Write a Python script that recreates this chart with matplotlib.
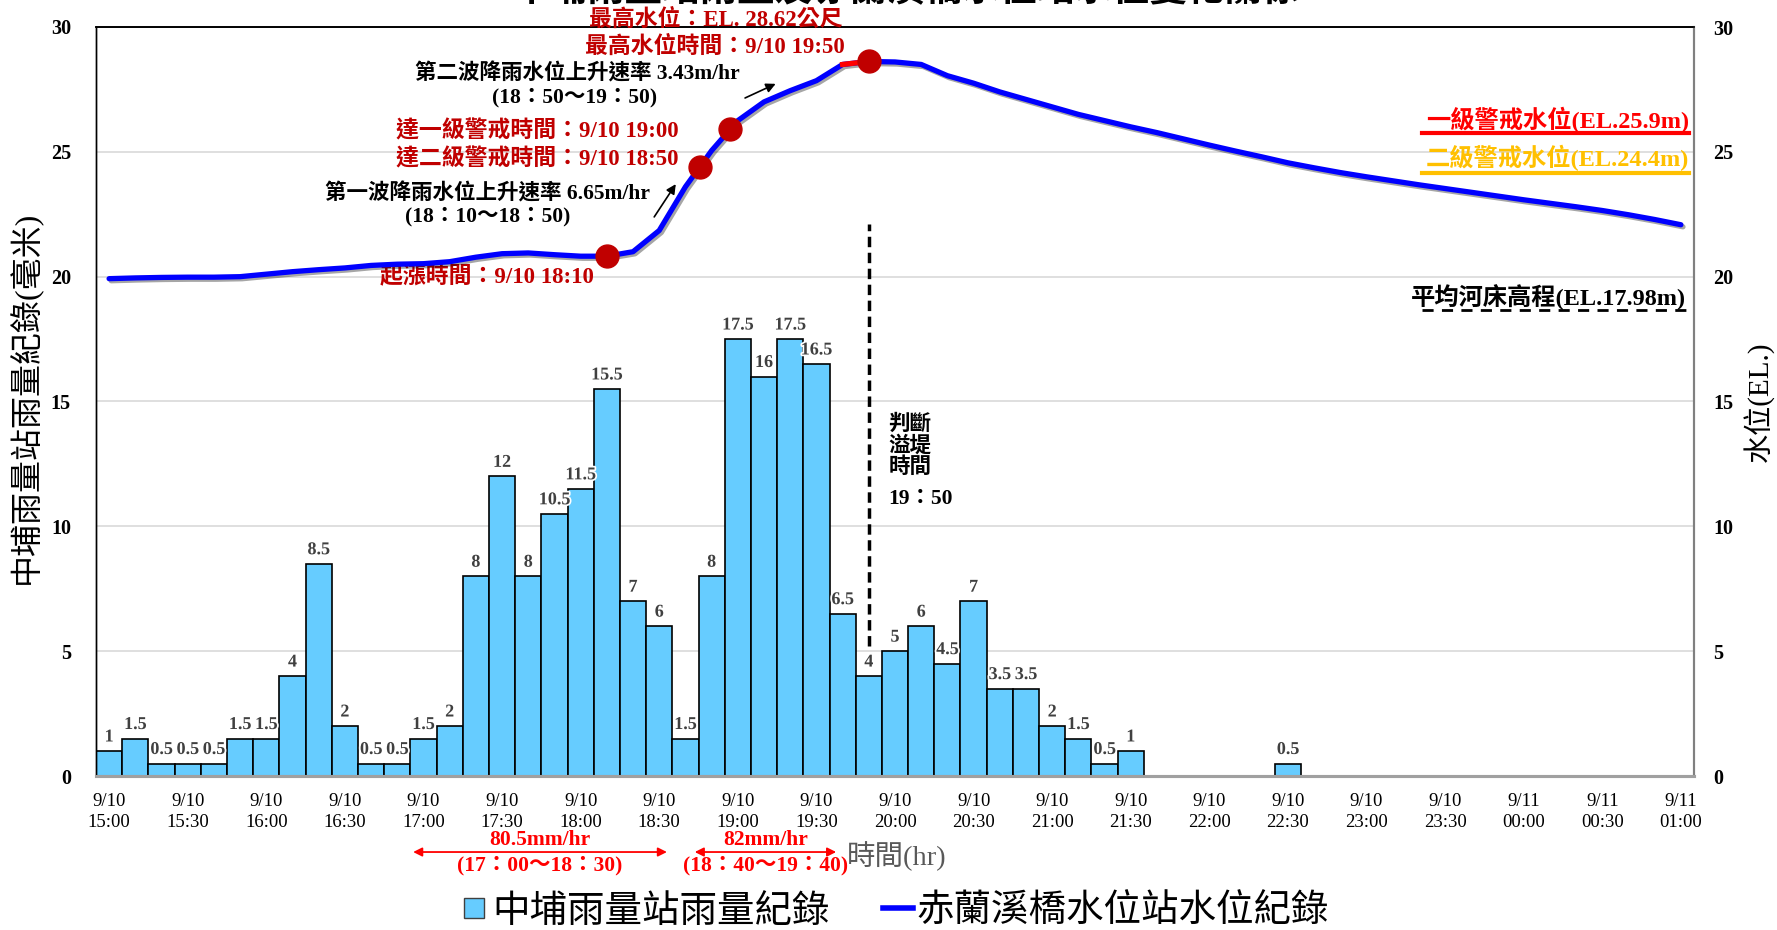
import matplotlib
matplotlib.use("Agg")
import matplotlib.pyplot as plt
import matplotlib.patheffects as pe
from matplotlib.lines import Line2D
import numpy as np
import pandas as pd

plt.rcParams['font.family'] = ['Liberation Serif', 'Noto Sans CJK TC', 'DejaVu Sans']

# 10 minute steps, 9/10 15:00 -> 9/11 01:00
times = pd.date_range('2019-09-10 15:00', '2019-09-11 01:00', freq='10min')

# 中埔雨量站 rainfall (mm / 10 min)
rain = [1, 1.5, 0.5, 0.5, 0.5, 1.5, 1.5, 4, 8.5, 2,
        0.5, 0.5, 1.5, 2, 8, 12, 8, 10.5, 11.5, 15.5,
        7, 6, 1.5, 8, 17.5, 16, 17.5, 16.5, 6.5, 4,
        5, 6, 4.5, 7, 3.5, 3.5, 2, 1.5, 0.5, 1,
        0, 0, 0, 0, 0, 0.5, 0, 0, 0, 0,
        0, 0, 0, 0, 0, 0, 0, 0, 0, 0, 0]

# 赤蘭溪橋 water level (EL. m)
water = [19.92, 19.95, 19.97, 19.98, 19.98, 20.0, 20.1, 20.2, 20.28, 20.35,
         20.45, 20.5, 20.52, 20.6, 20.78, 20.92, 20.95, 20.88, 20.82, 20.82,
         21.0, 21.85, 23.6, 25.05, 26.25, 27.0, 27.45, 27.85, 28.5, 28.62,
         28.6, 28.5, 28.05, 27.75, 27.4, 27.1, 26.8, 26.5, 26.25, 26.0,
         25.77, 25.52, 25.27, 25.03, 24.8, 24.56, 24.36, 24.17, 24.0, 23.84,
         23.68, 23.53, 23.38, 23.23, 23.08, 22.94, 22.8, 22.65, 22.48, 22.29, 22.08]

level_1 = 25.9
level_2 = 24.4
bed_level = 17.98
peak_level = 28.62
rise_time = '18:10'
peak_time = '19:50'

title = '中埔雨量站雨量及赤蘭溪橋水位站水位變化關係'

BAR_C = '#66CCFF'
LINE_C = '#0000FF'
DARK_RED = '#C00000'

x = np.arange(len(times))
rain = np.array(rain)
water = np.array(water)
hhmm = [t.strftime('%H:%M') for t in times]
i_rise = hhmm.index(rise_time)
i_peak = hhmm.index(peak_time)

fig = plt.figure(figsize=(17.77, 9.30), dpi=100)
ax = fig.add_axes([96/1777, 1-776/930, (1694-96)/1777, (776-27)/930])
ax2 = ax.twinx()

# rain bars
nz = rain > 0
ax.bar(x[nz], rain[nz], width=1.0, color=BAR_C, edgecolor='black', linewidth=1.2, zorder=2)
for xi, v in zip(x[nz], rain[nz]):
    ax.annotate(f'{v:g}', (xi, v), xytext=(0, 4), textcoords='offset points',
                ha='center', va='bottom', fontsize=13, fontweight='bold', color='#404040',
                path_effects=[pe.withStroke(linewidth=2.5, foreground='white')], zorder=3)

ax.set_xlim(-0.5, len(x) - 0.5)
ax.set_ylim(0, 30)
ax2.set_ylim(0, 30)
ax.set_yticks(range(0, 31, 5))
ax2.set_yticks(range(0, 31, 5))
ax.set_yticklabels([str(v) for v in range(0, 31, 5)], fontsize=14.5, fontweight='bold')
ax2.set_yticklabels([str(v) for v in range(0, 31, 5)], fontsize=14.5, fontweight='bold')
ax.tick_params(axis='y', length=0, pad=18)
ax2.tick_params(axis='y', length=0, pad=14)
ticks = x[::3]
ax.set_xticks(ticks)
ax.set_xticklabels([f'{times[i].month}/{times[i].day}\n{hhmm[i]}' for i in ticks],
                   fontsize=13.5, linespacing=1.3)
ax.tick_params(axis='x', length=0, pad=12)
ax.yaxis.grid(True, color='#D9D9D9', linewidth=1.2)
ax.set_axisbelow(True)

for a in (ax, ax2):
    a.spines['top'].set_color('black')
    a.spines['top'].set_linewidth(1.2)
    a.spines['left'].set_color('black')
    a.spines['left'].set_linewidth(1.0)
    a.spines['right'].set_color('#808080')
    a.spines['right'].set_linewidth(1.5)
    a.spines['bottom'].set_color('#A0A0A0')
    a.spines['bottom'].set_linewidth(2.2)

# water level line
ax2.plot(x, water, color=LINE_C, linewidth=3.8, solid_capstyle='round', zorder=4,
         path_effects=[pe.SimpleLineShadow(offset=(1.5, -1.5), alpha=0.35), pe.Normal()])
ax2.plot(x[i_peak-1:i_peak+1], water[i_peak-1:i_peak+1], color='red', linewidth=3.8, zorder=4)

seg = slice(i_rise, i_peak + 1)
x_l2 = np.interp(level_2, water[seg], x[seg])
x_l1 = np.interp(level_1, water[seg], x[seg])
ax2.plot([x[i_rise], x_l2, x_l1, x[i_peak]], [water[i_rise], level_2, level_1, peak_level],
         'o', markersize=16.5, color=DARK_RED, zorder=5)

# overflow judgement line
ax2.vlines(x[i_peak], 5.2, 22.1, colors='black', linestyles=(0, (3, 1.6)), linewidth=2.5, zorder=3)
ax2.text(x[i_peak] + 0.75, 13.2, '判斷\n溢堤\n時間', fontsize=15.5, fontweight='bold',
         va='center', ha='left', linespacing=1.05)
ax2.text(x[i_peak] + 0.75, 11.1, '19：50', fontsize=15.5, fontweight='bold', va='center', ha='left')

red_kw = dict(fontsize=16.5, fontweight='bold', color=DARK_RED, va='center')
blk_kw = dict(fontsize=15.5, fontweight='bold', color='black', va='center', ha='center')
ax2.text(23.16, 30.3, f'最高水位：EL. {peak_level}公尺', ha='center', **red_kw)
ax2.text(23.13, 29.2, '最高水位時間：9/10 19:50', ha='center', **red_kw)
ax2.text(17.86, 28.11, '第二波降雨水位上升速率 3.43m/hr', **blk_kw)
ax2.text(17.78, 27.19, '(18：50～19：50)', **blk_kw)
ax2.text(21.75, 25.83, '達一級警戒時間：9/10 19:00', ha='right', **red_kw)
ax2.text(21.75, 24.71, '達二級警戒時間：9/10 18:50', ha='right', **red_kw)
ax2.text(14.46, 23.31, '第一波降雨水位上升速率 6.65m/hr', **blk_kw)
ax2.text(14.46, 22.43, '(18：10～18：50)', **blk_kw)
ax2.text(14.42, 19.98, '起漲時間：9/10 18:10', ha='center', **red_kw)

arr = dict(arrowstyle='-|>', color='black', lw=1.2, mutation_scale=14)
ax2.annotate('', xy=(21.69, 23.8), xytext=(20.75, 22.3), arrowprops=arr)
ax2.annotate('', xy=(25.54, 27.77), xytext=(24.18, 27.11), arrowprops=arr)

# warning levels / river bed (legend-like marks at right)
tr = ax2.transAxes
ax2.text(0.997, 0.876, f'一級警戒水位(EL.{level_1}m)', transform=tr, ha='right', va='center',
         fontsize=17.5, fontweight='bold', color='#FF0000')
ax2.plot([0.83, 0.997], [0.858, 0.858], transform=tr, color='#FF0000', lw=3, clip_on=False)
ax2.text(0.997, 0.825, f'二級警戒水位(EL.{level_2}m)', transform=tr, ha='right', va='center',
         fontsize=17.5, fontweight='bold', color='#FFC000')
ax2.plot([0.83, 0.997], [0.805, 0.805], transform=tr, color='#FFC000', lw=3, clip_on=False)
ax2.text(0.995, 0.639, f'平均河床高程(EL.{bed_level}m)', transform=tr, ha='right', va='center',
         fontsize=17.5, fontweight='bold', color='black')
ax2.plot([0.83, 0.998], [0.622, 0.622], transform=tr, color='black', lw=2,
         linestyle=(0, (4, 3)), clip_on=False)

# rainfall intensity arrows under the axis
xt = ax.get_xaxis_transform()
rkw = dict(fontsize=15.5, fontweight='bold', color='#FF0000', ha='center', va='center')
for x0, x1, rate, span in [(11.5, 21.4, '80.5mm/hr', '(17：00～18：30)'),
                           (22.25, 27.86, '82mm/hr', '(18：40～19：40)')]:
    ax.annotate('', xy=(x0, -0.1015), xytext=(x1, -0.1015), xycoords=xt, textcoords=xt,
                arrowprops=dict(arrowstyle='<|-|>', color='#FF0000', lw=1.3, mutation_scale=13))
    ax.text((x0 + x1) / 2, -0.0854, rate, transform=xt, **rkw)
    ax.text((x0 + x1) / 2, -0.120, span, transform=xt, **rkw)

fig.text(897/1777, 1-856/930, '時間(hr)', fontsize=20.5, color='#595959', ha='center', va='center')
fig.text(25/1777, 1-397/930, '中埔雨量站雨量紀錄(毫米)', fontsize=23, rotation=90,
         ha='center', va='center')
fig.text(1758/1777, 1-402/930, '水位(EL.)', fontsize=21, rotation=90, ha='center', va='center')
fig.text(907/1777, 1-1.5/930, title, fontsize=27, fontweight='bold', ha='center', va='baseline')

handles = [Line2D([], [], marker='s', linestyle='none', markersize=15,
                  markerfacecolor=BAR_C, markeredgecolor='#404040'),
           Line2D([], [], color=LINE_C, linewidth=4)]
fig.legend(handles, ['中埔雨量站雨量紀錄', '赤蘭溪橋水位站水位紀錄'], loc='center',
           bbox_to_anchor=(894/1777, 1-912/930), ncol=2, frameon=False, fontsize=27,
           handlelength=0.8, handletextpad=0.1, columnspacing=1.4)

fig.savefig('out.png', dpi=100)
